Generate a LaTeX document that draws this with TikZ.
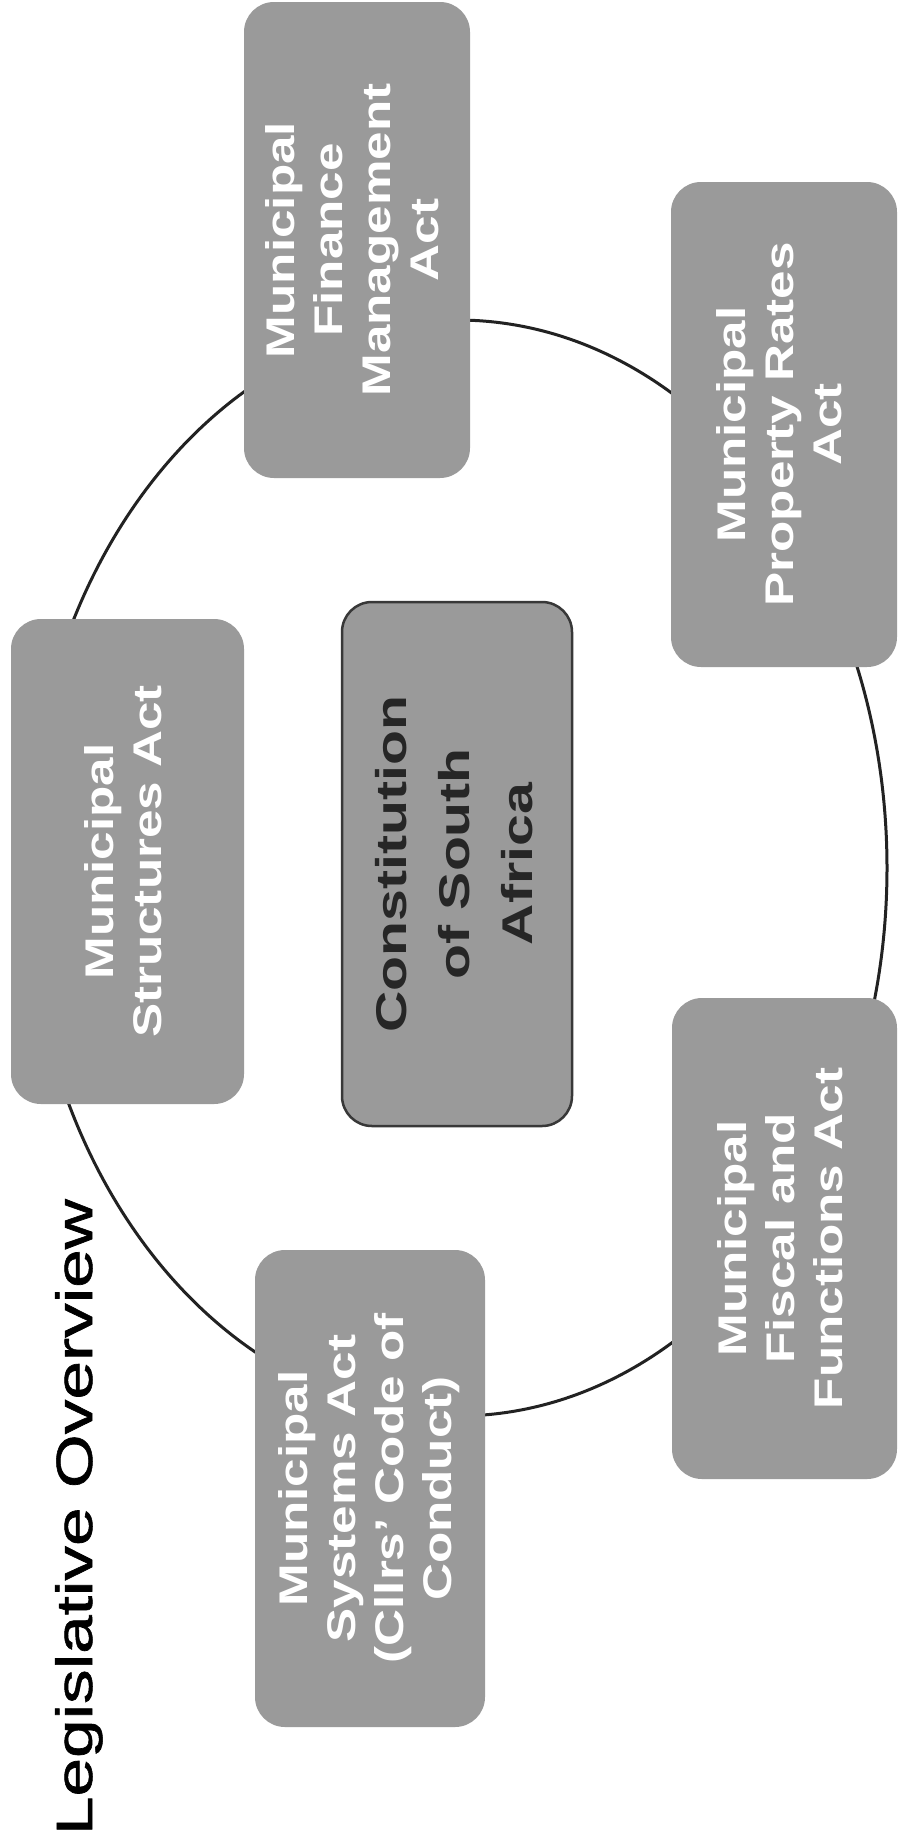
\documentclass[tikz,border=0pt]{standalone}
\usepackage{fontspec}
\setmainfont{Liberation Sans}
\newfontfamily\titlefont[FakeBold=1]{Liberation Sans}
\usepackage{graphicx}
\definecolor{boxgray}{HTML}{9A9A9A}
\definecolor{ringdark}{HTML}{222222}
\definecolor{borderdark}{HTML}{383838}
\definecolor{consttext}{HTML}{262626}
\newcommand{\boxlines}[2]{\rotatebox{90}{\scalebox{#1}[1]{\begin{tabular}{@{}c@{}}#2\end{tabular}}}}
\begin{document}
\begin{tikzpicture}[x=1pt,y=-1pt,
  actbox/.style={draw=none, fill=boxgray, rounded corners=30pt, inner sep=0pt,
    text=white, font=\fontsize{40}{48}\selectfont\bfseries,
    minimum width=228pt, minimum height=480pt},
  ring/.style={draw=ringdark, line width=3pt},
  titletext/.style={rotate=90, anchor=base, inner sep=0pt, text=black,
    font=\titlefont\fontsize{51}{60}\selectfont}]
\useasboundingbox (0,0) rectangle (899,1847);
\fill[white] (0,0) rectangle (899,1847);
% ring under the boxes
\coordinate (ringc) at (457,868);
\draw[ring] (ringc) ellipse [x radius=430pt, y radius=548pt];
% boxes
\node[actbox, minimum width=226pt, minimum height=476pt] (mfma) at (357,240)
  {\boxlines{1.28}{Municipal\\Finance\\Management\\Act}};
\node[actbox, minimum width=226pt, minimum height=485pt] (mpra) at (784,424.5)
  {\boxlines{1.28}{Municipal\\Property Rates\\Act}};
\node[actbox, minimum width=233pt, minimum height=485pt] (msa) at (127.5,861.5)
  {\boxlines{1.28}{Municipal\\Structures Act}};
\node[actbox, draw=borderdark, line width=2.5pt, text=consttext,
  font=\fontsize{43}{63}\selectfont\bfseries,
  minimum width=230pt, minimum height=524pt] (const) at (457,864)
  {\boxlines{1.33}{Constitution\\of South\\Africa}};
\node[actbox, minimum width=225pt, minimum height=481pt] (mffa) at (784.5,1238.5)
  {\boxlines{1.28}{Municipal\\Fiscal and\\Functions Act}};
\node[actbox, minimum width=230pt, minimum height=477pt] (msys) at (370,1488.5)
  {\boxlines{1.28}{Municipal\\Systems Act\\(Cllrs’ Code of\\Conduct)}};
% title
\node[titletext] (title) at (92,1517) {\scalebox{1.36}[1]{Legislative Overview}};
\end{tikzpicture}
\end{document}
